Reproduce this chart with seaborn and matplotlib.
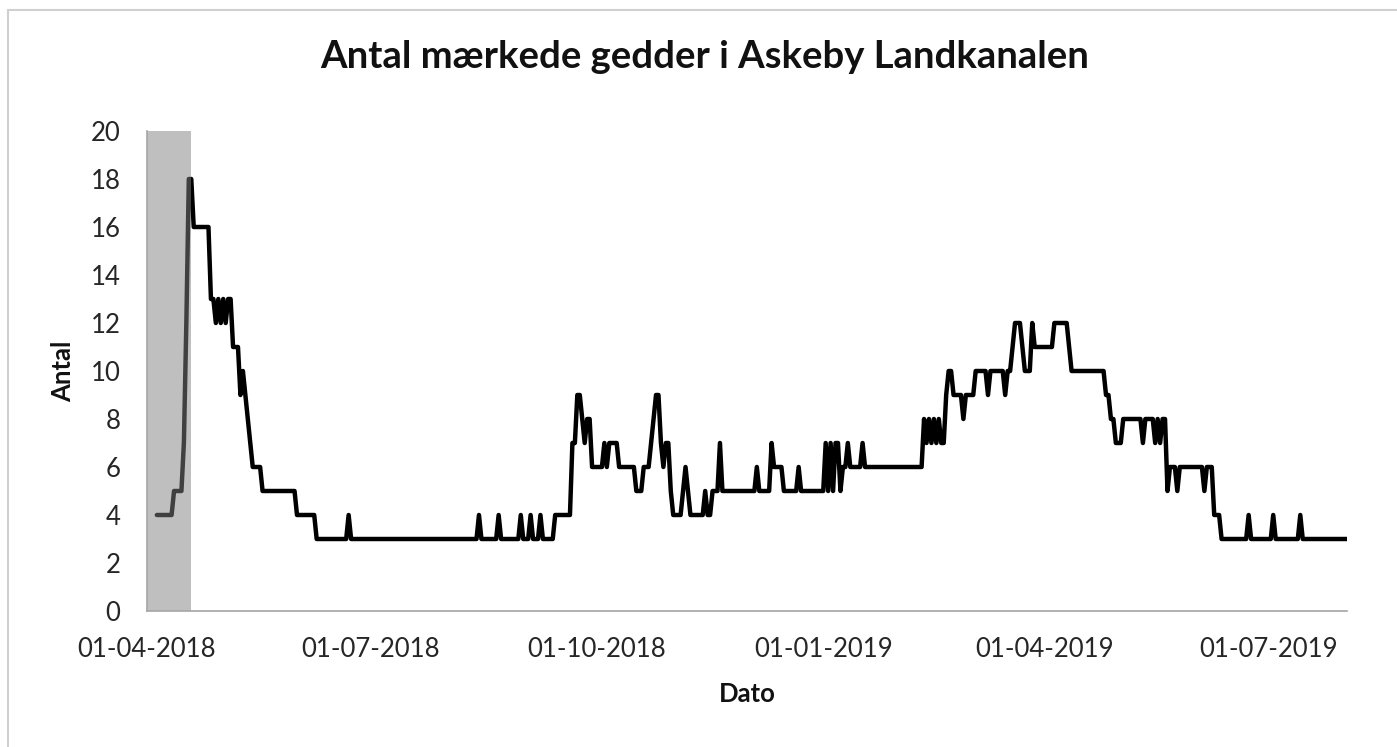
import matplotlib
matplotlib.use("Agg")
import matplotlib.pyplot as plt
import matplotlib.dates as mdates
from matplotlib.lines import Line2D
import numpy as np
import pandas as pd
import seaborn as sns

# ---------------- data ----------------
# dates on which the number of tagged pike changes, and the new count from that day on
change_dates = [
    "2018-04-05", "2018-04-12", "2018-04-16", "2018-04-17", "2018-04-18", "2018-04-20",
    "2018-04-27", "2018-04-29", "2018-04-30", "2018-05-01", "2018-05-02", "2018-05-03",
    "2018-05-04", "2018-05-06", "2018-05-09", "2018-05-10", "2018-05-11", "2018-05-12",
    "2018-05-13", "2018-05-14", "2018-05-18", "2018-06-01", "2018-06-09", "2018-06-22",
    "2018-06-23", "2018-08-14", "2018-08-15", "2018-08-22", "2018-08-23", "2018-08-31",
    "2018-09-01", "2018-09-04", "2018-09-05", "2018-09-08", "2018-09-09", "2018-09-14",
    "2018-09-21", "2018-09-23", "2018-09-25", "2018-09-26", "2018-09-27", "2018-09-29",
    "2018-10-04", "2018-10-05", "2018-10-06", "2018-10-10", "2018-10-17", "2018-10-20",
    "2018-10-23", "2018-10-24", "2018-10-25", "2018-10-27", "2018-10-28", "2018-10-29",
    "2018-10-31", "2018-11-01", "2018-11-05", "2018-11-06", "2018-11-07", "2018-11-08",
    "2018-11-14", "2018-11-15", "2018-11-17", "2018-11-20", "2018-11-21", "2018-12-05",
    "2018-12-06", "2018-12-11", "2018-12-12", "2018-12-16", "2018-12-22", "2018-12-23",
    "2019-01-02", "2019-01-03", "2019-01-04", "2019-01-05", "2019-01-06", "2019-01-08",
    "2019-01-09", "2019-01-11", "2019-01-12", "2019-01-17", "2019-01-18", "2019-02-11",
    "2019-02-12", "2019-02-13", "2019-02-14", "2019-02-15", "2019-02-16", "2019-02-17",
    "2019-02-18", "2019-02-20", "2019-02-21", "2019-02-23", "2019-02-27", "2019-02-28",
    "2019-03-04", "2019-03-09", "2019-03-10", "2019-03-16", "2019-03-17", "2019-03-19",
    "2019-03-20", "2019-03-23", "2019-03-24", "2019-03-27", "2019-03-28", "2019-04-05",
    "2019-04-11", "2019-04-12", "2019-04-26", "2019-04-28", "2019-04-30", "2019-05-03",
    "2019-05-11", "2019-05-12", "2019-05-16", "2019-05-17", "2019-05-18", "2019-05-19",
    "2019-05-21", "2019-05-22", "2019-05-25", "2019-05-26", "2019-06-05", "2019-06-06",
    "2019-06-09", "2019-06-12", "2019-06-23", "2019-06-24", "2019-07-03", "2019-07-04",
    "2019-07-14", "2019-07-15",
]
change_counts = [
    4, 5, 7, 12, 18, 16,
    13, 12, 13, 12, 13, 12,
    13, 11, 9, 10, 9, 8,
    7, 6, 5, 4, 3, 4,
    3, 4, 3, 4, 3, 4,
    3, 4, 3, 4, 3, 4,
    7, 9, 8, 7, 8, 6,
    7, 6, 7, 6, 5, 6,
    7, 8, 9, 7, 6, 7,
    5, 4, 5, 6, 5, 4,
    5, 4, 5, 7, 5, 6,
    5, 7, 6, 5, 6, 5,
    7, 5, 7, 5, 7, 5,
    6, 7, 6, 7, 6, 8,
    7, 8, 7, 8, 7, 8,
    7, 9, 10, 9, 8, 9,
    10, 9, 10, 9, 10, 11,
    12, 11, 10, 12, 11, 12,
    11, 10, 9, 8, 7, 8,
    7, 8, 7, 8, 7, 8,
    5, 6, 5, 6, 5, 6,
    4, 3, 4, 3, 4, 3,
    4, 3,
]
end_date = "2019-08-02"

shade_start = "2018-04-01"
shade_end = "2018-04-19"

xtick_dates = ["2018-04-01", "2018-07-01", "2018-10-01", "2019-01-01", "2019-04-01", "2019-07-01"]
ytick_values = [0, 2, 4, 6, 8, 10, 12, 14, 16, 18, 20]

title_text = "Antal mærkede gedder i Askeby Landkanalen"
x_label = "Dato"
y_label = "Antal"

# ---------------- build daily series ----------------
steps = pd.Series(change_counts, index=pd.to_datetime(change_dates))
days = pd.date_range(change_dates[0], end_date, freq="D")
daily = steps.reindex(days).ffill()
df = pd.DataFrame({"Dato": days, "Antal": daily.values})

# ---------------- style ----------------
sns.set_theme(style="white")
plt.rcParams["font.family"] = ["Lato", "DejaVu Sans"]

W, H = 1397, 747
fig = plt.figure(figsize=(W / 100, H / 100), dpi=100)
fig.patch.set_facecolor("white")
ax = fig.add_axes([147 / W, 1 - 611 / H, 1200 / W, 480 / H])

sns.lineplot(data=df, x="Dato", y="Antal", ax=ax, color="black", linewidth=3.2, zorder=2)
ax.axvspan(pd.Timestamp(shade_start), pd.Timestamp(shade_end),
           color="#808080", alpha=0.5, lw=0, zorder=3)

ax.set_xlim(pd.Timestamp(xtick_dates[0]), pd.Timestamp(end_date))
ax.set_ylim(ytick_values[0], ytick_values[-1])
ax.set_xticks(pd.to_datetime(xtick_dates))
ax.xaxis.set_major_formatter(mdates.DateFormatter("%d-%m-%Y"))
ax.set_yticks(ytick_values)

spine_color = "#a6a6a6"
for s in ["top", "right"]:
    ax.spines[s].set_visible(False)
for s in ["left", "bottom"]:
    ax.spines[s].set_color(spine_color)
    ax.spines[s].set_linewidth(1.2)
    ax.spines[s].set_zorder(4)

ax.tick_params(axis="both", which="major", direction="out", length=7, width=1.2,
               color=spine_color, labelsize=18.5, labelcolor="#262626")
ax.tick_params(axis="y", pad=12)
ax.tick_params(axis="x", pad=12)
ax.grid(False)

ax.set_xlabel(x_label, fontsize=18.5, fontweight="bold", color="#111111", labelpad=14)
ax.set_ylabel(y_label, fontsize=18.5, fontweight="bold", color="#111111", labelpad=11)

fig.text(705 / W, 1 - 68 / H, title_text, ha="center", va="baseline",
         fontsize=27.5, fontweight="bold", color="#111111")

# chart-area border (light grey), visible on left and top
border_color = "#d0d0d0"
fig.add_artist(Line2D([8 / W, 8 / W], [0, 1 - 10 / H], transform=fig.transFigure,
                      color=border_color, lw=1.5))
fig.add_artist(Line2D([8 / W, 1], [1 - 10 / H, 1 - 10 / H], transform=fig.transFigure,
                      color=border_color, lw=1.5))

fig.savefig("out.png", dpi=100, facecolor="white")
